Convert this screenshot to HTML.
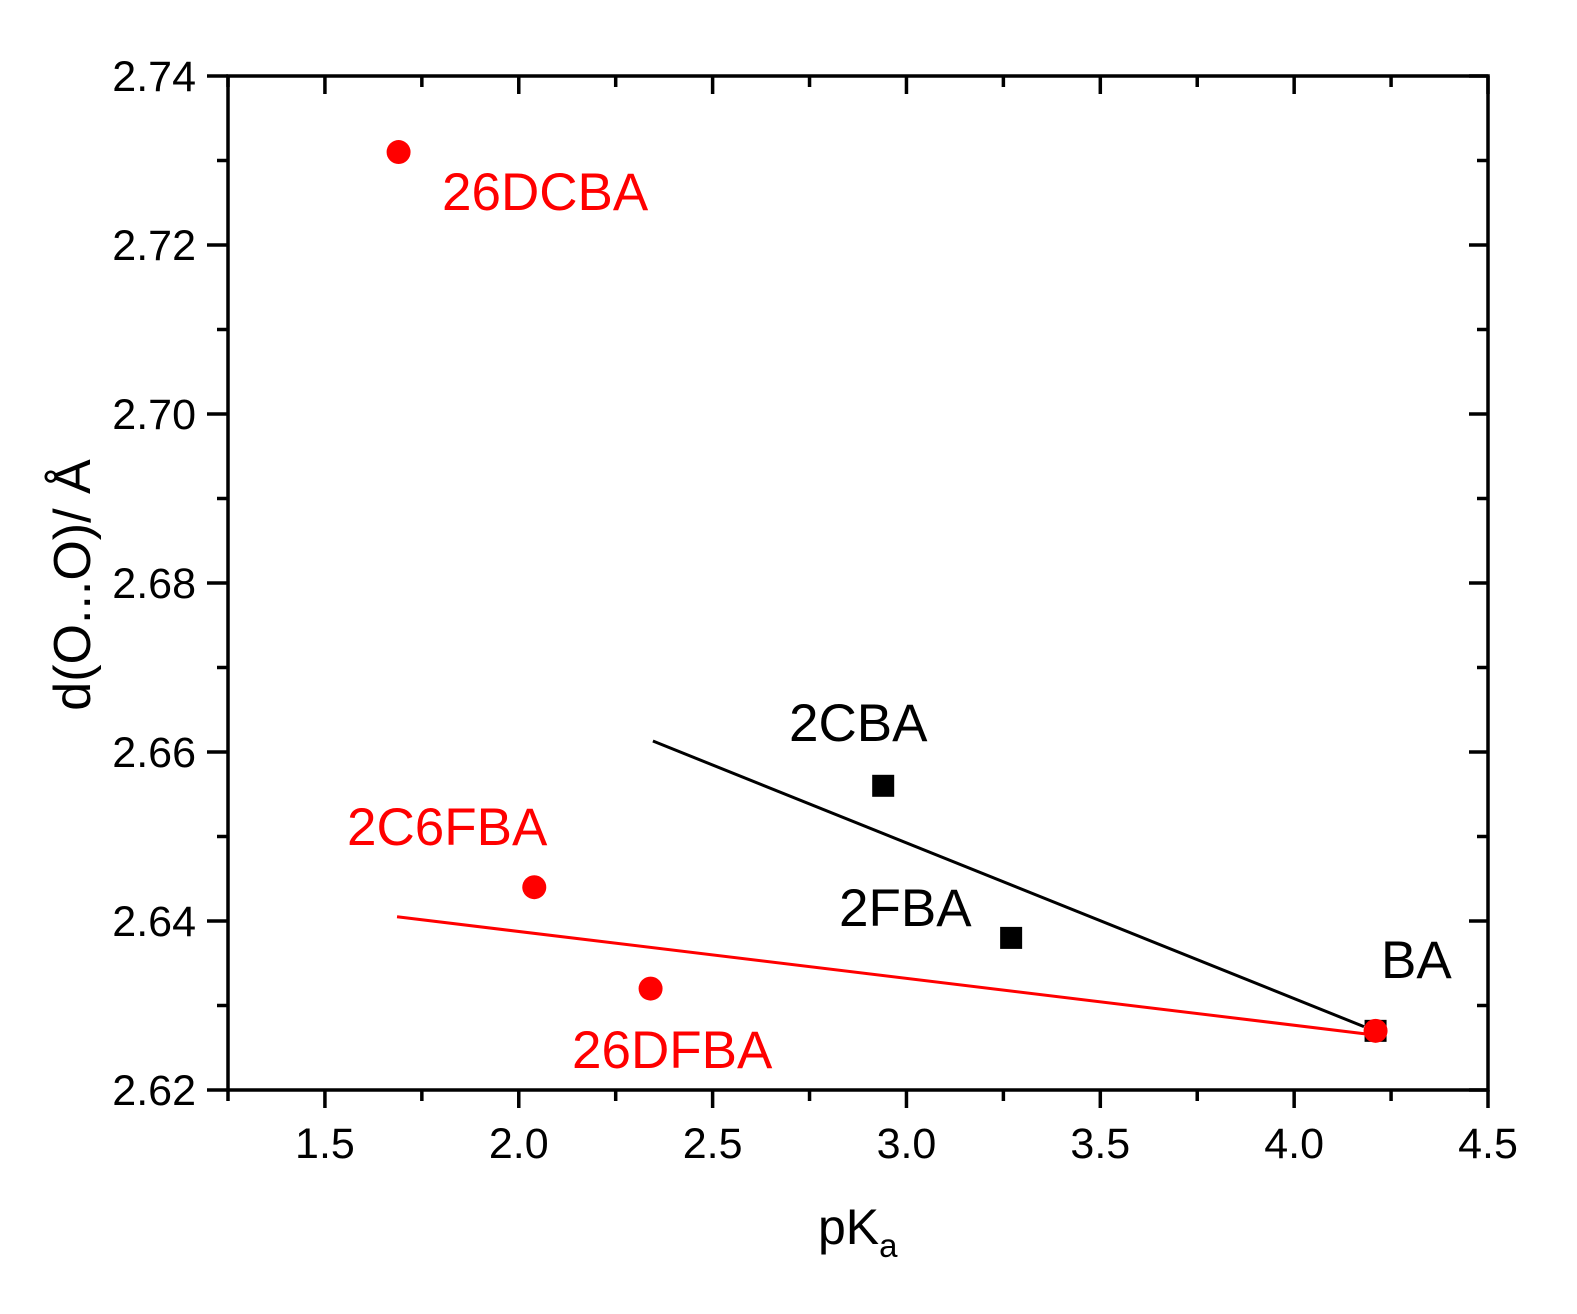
<!DOCTYPE html>
<html><head><meta charset="utf-8"><style>
body{margin:0;background:#fff}
svg text{font-family:"Liberation Sans",Arial,sans-serif}
</style></head><body>
<svg id="chart" width="1577" height="1309" xmlns="http://www.w3.org/2000/svg">
<g id="axes"></g><g id="marks"></g>
</svg>
<script>
const xTicks=[1.5,2.0,2.5,3.0,3.5,4.0,4.5];
const xTickLabels=["1.5","2.0","2.5","3.0","3.5","4.0","4.5"];
const yTicks=[2.62,2.64,2.66,2.68,2.70,2.72,2.74];
const yTickLabels=["2.62","2.64","2.66","2.68","2.70","2.72","2.74"];
const redNames=["26DCBA","2C6FBA","26DFBA","BA-red"];
const redX=[1.69,2.04,2.34,4.21];
const redY=[2.731,2.644,2.632,2.627];
const blackNames=["2CBA","2FBA","BA"];
const blackX=[2.94,3.27,4.21];
const blackY=[2.656,2.638,2.627];
const blackFitX=[2.346,4.18];
const blackFitY=[2.6613,2.6275];
const redFitX=[1.686,4.21];
const redFitY=[2.6405,2.6265];

const L=228,R=1488,T=76,B=1090,X0=1.25,X1=4.5,Y0=2.62,Y1=2.74;
const sx=v=>L+(v-X0)/(X1-X0)*(R-L);
const sy=v=>B-(v-Y0)/(Y1-Y0)*(B-T);
const NS="http://www.w3.org/2000/svg";
function mk(tag,attrs,parent){const e=document.createElementNS(NS,tag);for(const k in attrs)e.setAttribute(k,attrs[k]);parent.appendChild(e);return e;}
const ax=document.getElementById('axes'),mg=document.getElementById('marks');
const frame=mk('rect',{x:L,y:T,width:R-L,height:B-T,fill:'none',stroke:'#000','stroke-width':3.5},ax);


xTicks.forEach((v,i)=>{
  const x=sx(v);
  const t=mk('line',{x1:x,x2:x,y1:B,y2:B+18,stroke:'#000','stroke-width':3.5},ax);
  
  
  mk('line',{x1:x,x2:x,y1:T,y2:T+18,stroke:'#000','stroke-width':3.5},ax);
  const lb=mk('text',{x:x,y:1158,'font-size':43,'text-anchor':'middle'},ax);lb.textContent=xTickLabels[i];
  
  
});
for(let v=X0;v<=X1+1e-9;v+=0.5){const x=sx(v);
  mk('line',{x1:x,x2:x,y1:B,y2:B+11,stroke:'#000','stroke-width':3.5},ax);
  mk('line',{x1:x,x2:x,y1:T,y2:T+11,stroke:'#000','stroke-width':3.5},ax);}
yTicks.forEach((v,i)=>{
  const y=sy(v);
  const t=mk('line',{x1:L-21,x2:L,y1:y,y2:y,stroke:'#000','stroke-width':3.5},ax);
  
  
  mk('line',{x1:R-19,x2:R,y1:y,y2:y,stroke:'#000','stroke-width':3.5},ax);
  const lb=mk('text',{x:196,y:y+15,'font-size':43,'text-anchor':'end'},ax);lb.textContent=yTickLabels[i];
  
  
});
for(let v=Y0+0.01;v<Y1;v+=0.02){const y=sy(v);
  mk('line',{x1:L-11,x2:L,y1:y,y2:y,stroke:'#000','stroke-width':3.5},ax);
  mk('line',{x1:R-11,x2:R,y1:y,y2:y,stroke:'#000','stroke-width':3.5},ax);}
const xt=mk('text',{x:818,y:1244,'font-size':50},ax);
xt.innerHTML='pK<tspan font-size="33" dy="13">a</tspan>';


const yt=mk('text',{x:90,y:585,'font-size':52,'text-anchor':'middle',transform:'rotate(-90 90 585)'},ax);
yt.textContent='d(O...O)/ Å';


const bl=mk('line',{x1:sx(blackFitX[0]),y1:sy(blackFitY[0]),x2:sx(blackFitX[1]),y2:sy(blackFitY[1]),stroke:'#000','stroke-width':3},mg);


const rl=mk('line',{x1:sx(redFitX[0]),y1:sy(redFitY[0]),x2:sx(redFitX[1]),y2:sy(redFitY[1]),stroke:'#f00','stroke-width':3},mg);


blackX.forEach((v,i)=>{
  const s=mk('rect',{x:sx(v)-11,y:sy(blackY[i])-11,width:22,height:22,fill:'#000'},mg);
  
  
});
redX.forEach((v,i)=>{
  const c=mk('circle',{cx:sx(v),cy:sy(redY[i]),r:12,fill:'#f00'},mg);
  
  
});
const labels=[["26DCBA",442,210,"#f00"],["2C6FBA",347,845,"#f00"],["26DFBA",572,1068,"#f00"],["2CBA",789,741,"#000"],["2FBA",839,926,"#000"],["BA",1381,978,"#000"]];
labels.forEach(l=>{
  const t=mk('text',{x:l[1],y:l[2],'font-size':53,fill:l[3]},mg);t.textContent=l[0];
  
  
});
</script>
</body></html>
